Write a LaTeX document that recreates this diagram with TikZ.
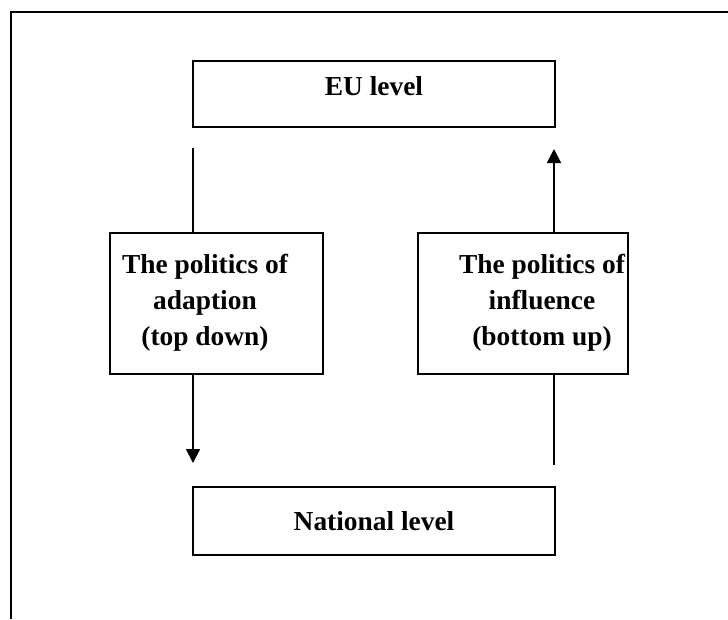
\documentclass[tikz,border=0pt]{standalone}
\usepackage{fontspec}
\setmainfont{Liberation Serif}
\usetikzlibrary{arrows.meta}
\begin{document}
\begin{tikzpicture}[x=1pt,y=-1pt,
  box/.style={draw=black,line width=1.8pt,inner sep=0pt},
  lbl/.style={font=\fontsize{27.4}{36}\selectfont\bfseries,align=center,inner sep=0pt},
  link/.style={line width=1.8pt},
  tip/.style={-{Triangle[width=14pt,length=14pt]}}]
\useasboundingbox (0,0) rectangle (728,619);
% frame: only the top and left edges
\draw[line width=2.2pt] (728,12) -- (11,12) -- (11,619);
% boxes
\node[box,minimum width=362pt,minimum height=66pt] (eu) at (374,94) {};
\node[box,minimum width=362pt,minimum height=68pt] (nat) at (374,521) {};
\node[box,minimum width=213pt,minimum height=141pt] (adapt) at (216.5,303.5) {};
\node[box,minimum width=210pt,minimum height=141pt] (infl) at (523,303.5) {};
% texts
\node[lbl] (eut) at (374,86) {EU level};
\node[lbl] (natt) at (374,521) {National level};
\node[lbl] (adaptt) at (205,303) {The politics of\\adaption\\(top down)};
\node[lbl] (inflt) at (542,303) {The politics of\\influence\\(bottom up)};
% connector ends
\coordinate (a1) at (193,148);
\coordinate (a2) at (193,233);
\coordinate (a3) at (193,374);
\coordinate (a4) at (193,463);
\coordinate (b1) at (554,465);
\coordinate (b2) at (554,374);
\coordinate (b3) at (554,233);
\coordinate (b4) at (554,149);
\draw[link] (a1) -- (a2);
\draw[link,tip] (a3) -- (a4);
\draw[link] (b1) -- (b2);
\draw[link,tip] (b3) -- (b4);
\end{tikzpicture}
\end{document}
